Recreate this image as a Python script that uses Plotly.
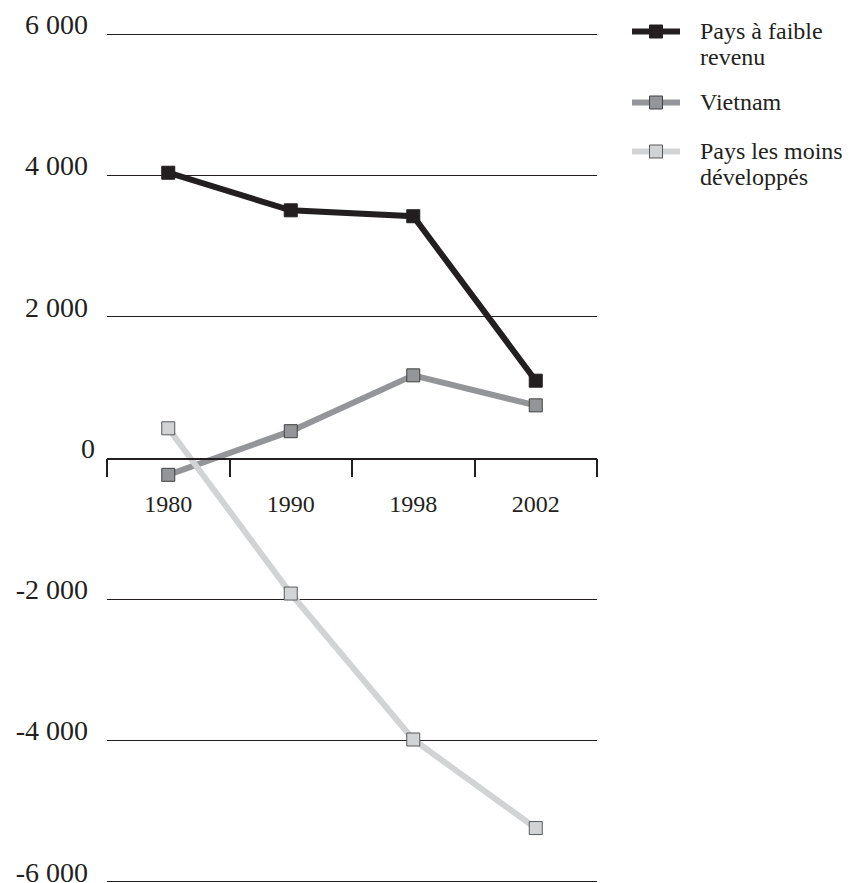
import plotly.graph_objects as go

categories = ["1980", "1990", "1998", "2002"]
faible_revenu = [4040, 3508, 3424, 1095]
vietnam = [-238, 380, 1171, 746]
pma = [421, -1919, -3986, -5240]

y_ticks = [-6000, -4000, -2000, 0, 2000, 4000, 6000]
y_labels = ["-6 000", "-4 000", "-2 000", "0", "2 000", "4 000", "6 000"]

names = [["Pays à faible", "revenu"], ["Vietnam"], ["Pays les moins", "développés"]]

NB = "\u00a0"


def legend_label(lines):
    return "<br>".join(
        '<span style="font-size:30px">' + NB * 2 + '</span>'
        '<span style="font-size:24px">' + ln + '</span>' for ln in lines)


series = [
    (names[0], faible_revenu, "#231f20", "#231f20", "#231f20", "legend"),
    (names[1], vietnam, "#939598", "#939598", "#414042", "legend2"),
    (names[2], pma, "#d1d3d4", "#d1d3d4", "#58595b", "legend3"),
]

fig = go.Figure()
for nm, vals, lc, mc, ml, lg in series:
    fig.add_trace(go.Scatter(
        x=categories, y=vals, name=legend_label(nm), mode="lines+markers",
        line=dict(color=lc, width=6),
        marker=dict(symbol="square", size=13, color=mc, line=dict(color=ml, width=1)),
        legend=lg,
    ))

W, H = 842, 875
PH = 870.0


def py(pix):
    return (H - pix) / PH


LX = (619 - 589) / 490.0

leg_common = dict(
    xanchor="left", yanchor="top",
    font=dict(size=20, family="Liberation Serif", color="#231f20"),
    itemwidth=48, valign="top", bgcolor="rgba(0,0,0,0)",
)
fig.update_layout(
    width=W, height=H,
    margin=dict(l=99, r=253, t=5, b=0, autoexpand=False),
    paper_bgcolor="white", plot_bgcolor="white",
    font=dict(family="Liberation Serif", size=24, color="#231f20"),
    showlegend=True,
    legend=dict(x=1 + LX, y=py(4), **leg_common),
    legend2=dict(x=1 + LX, y=py(75), **leg_common),
    legend3=dict(x=1 + LX, y=py(124), **leg_common),
)
fig.update_yaxes(
    automargin=False,
    range=[-6018, 6302],
    tickvals=y_ticks,
    ticktext=[t if t == "0" else t + NB for t in y_labels],
    showgrid=True, gridcolor="#231f20", gridwidth=1.3,
    zeroline=False, showline=False, ticks="",
    ticklabelshift=-10, ticklabelstandoff=11,
    ticklabeloverflow="allow",
    tickfont=dict(size=28),
)
fig.update_xaxes(
    automargin=False,
    type="category", range=[-0.5, 3.5],
    showgrid=False, zeroline=False,
    showline=True, linecolor="#231f20", linewidth=1.5,
    anchor="free", position=(H - 450.5) / PH,
    ticks="outside", tickson="boundaries", ticklen=18, tickwidth=1.5, tickcolor="#231f20",
    ticklabelstandoff=24,
    tickfont=dict(size=24),
)

fig.write_html("out.html")
